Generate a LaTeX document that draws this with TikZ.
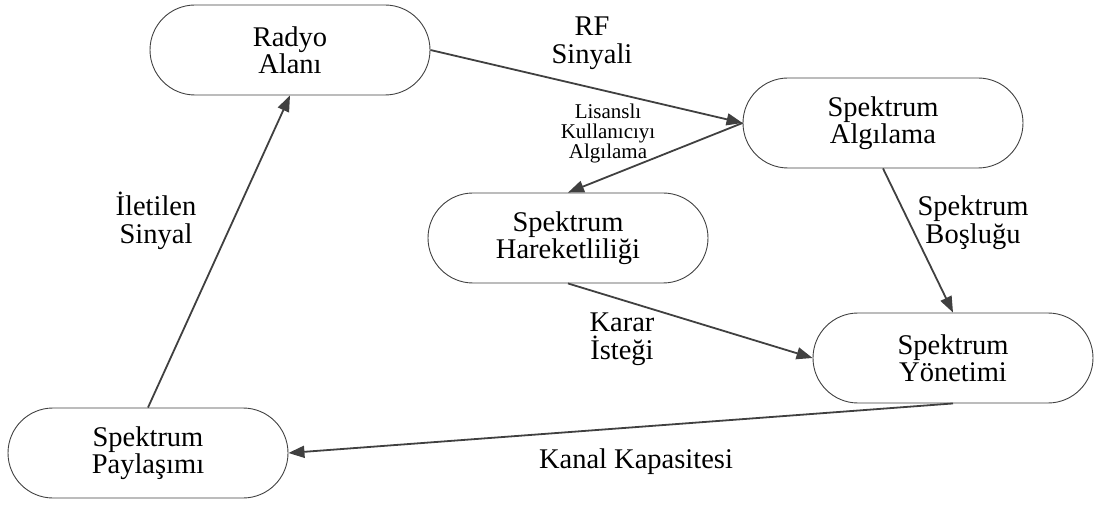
\documentclass[tikz,border=0pt]{standalone}
\usepackage{fontspec}
\setmainfont{Liberation Serif}
\usetikzlibrary{arrows.meta}
\definecolor{edgegray}{HTML}{404040}
\begin{document}
\begin{tikzpicture}[x=1pt,y=-1pt,
  stage/.style={draw=edgegray, line width=0.9pt, rounded corners=45pt,
    minimum width=280pt, minimum height=90pt, inner sep=0pt, align=center,
    font=\fontsize{28.5}{27}\selectfont},
  flow/.style={draw=edgegray, line width=1.8pt,
    -{Triangle[length=16pt,width=12pt]}},
  lbl/.style={align=center, font=\fontsize{28.5}{28}\selectfont},
  smalllbl/.style={align=center, font=\fontsize{21}{20}\selectfont}]
  \useasboundingbox (0,0) rectangle (1096,505);

  % stages of the cognitive radio cycle
  \node[stage] (radyo) at (290,50) {Radyo\\Alanı};
  \node[stage] (algi)  at (883,123) {Spektrum\\Algılama};
  \node[stage] (hare)  at (568,238) {Spektrum\\Hareketliliği};
  \node[stage] (yone)  at (953,358) {Spektrum\\Yönetimi};
  \node[stage] (payl)  at (148,453) {Spektrum\\Paylaşımı};

  % transitions
  \draw[flow] (radyo.east) -- (algi.west);
  \draw[flow] (algi.west) -- (hare.north);
  \draw[flow] (algi.south) -- (yone.north);
  \draw[flow] (hare.south) -- (yone.west);
  \draw[flow] (yone.south) -- (payl.east);
  \draw[flow] (payl.north) -- (radyo.south);

  % transition labels
  \node[lbl] (lrf)   at (592,43)  {RF\\Sinyali};
  \node[smalllbl] (llis) at (608,133) {Lisanslı\\Kullanıcıyı\\Algılama};
  \node[lbl] (lilet) at (156,221) {İletilen\\Sinyal};
  \node[lbl] (lbos)  at (973,223) {Spektrum\\Boşluğu};
  \node[lbl] (lkar)  at (622,339) {Karar\\İsteği};
  \node[lbl] (lkan)  at (636,462) {Kanal Kapasitesi};
\end{tikzpicture}
\end{document}
